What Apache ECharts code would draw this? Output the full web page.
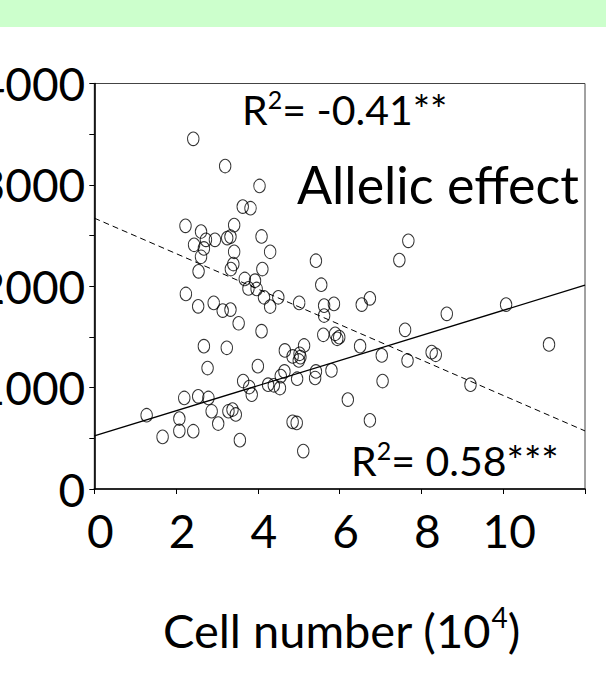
<!DOCTYPE html>
<html><head><meta charset="utf-8">
<script src="https://cdn.jsdelivr.net/npm/echarts@6/dist/echarts.min.js"></script>
<style>
html,body{margin:0;padding:0;background:#fff;overflow:hidden;}
#chart{width:606px;height:678px;}
</style></head><body>
<div id="chart"></div>
<script>
const cellNumber = [2.42,3.20,4.04,3.63,3.82,2.23,3.42,2.61,2.73,2.95,3.25,3.33,2.44,2.68,4.09,3.42,4.30,2.61,5.42,3.40,3.34,4.11,2.55,5.55,3.68,3.93,
2.24,2.54,2.92,3.14,3.33,3.53,3.77,3.97,4.15,4.30,4.50,5.01,5.62,5.62,4.09,5.60,2.68,3.24,4.66,5.13,5.02,5.04,5.00,4.85,2.77,4.00,4.65,4.56,5.42,5.80,5.40,4.96,3.64,3.79,3.85,4.25,4.39,4.54,2.20,2.54,2.79,2.87,3.28,3.38,3.46,1.28,2.08,3.03,4.85,4.95,2.08,2.42,1.67,3.56,5.11,
5.86,6.54,6.74,8.62,10.07,7.60,5.89,5.99,5.94,6.50,7.03,7.66,8.25,8.35,11.12,7.05,9.20,6.20,6.74,7.68,7.46];
const allelicEffect = [3454,3186,2989,2786,2770,2596,2603,2540,2458,2458,2475,2490,2409,2373,2491,2340,2340,2291,2252,2219,2170,2170,2147,2015,2072,2055,
1924,1802,1836,1760,1770,1635,1979,1973,1891,1800,1891,1836,1809,1711,1557,1521,1409,1393,1367,1416,1334,1301,1268,1308,1193,1212,1160,1114,1160,1170,1095,1088,1065,1006,931,1029,1023,996,898,914,898,767,767,784,735,728,695,646,662,652,573,570,514,482,374,
1826,1819,1881,1728,1819,1570,1531,1498,1482,1409,1318,1268,1350,1324,1426,1065,1029,882,678,2448,2258];
const fitPositiveX = [0, 12];
const fitPositiveY = [524, 2010];
const fitNegativeX = [0, 12];
const fitNegativeY = [2672, 573];
const xTickLabels = ['0','2','4','6','8','10'];
const yTickLabels = ['0','1000','2000','3000','4000'];
const annotationTop = ['R', '2', '= -0.41**'];
const annotationLabel = 'Allelic effect';
const annotationBottom = ['R', '2', '= 0.58***'];
const xTitle = ['Cell number (10', '4', ')'];

const FONT = 'Lato';
const richR2 = (size) => ({
  a: {fontSize: size, fontFamily: FONT, color: '#000', lineHeight: size * 1.2, verticalAlign: 'middle'},
  s: {fontSize: Math.round(size * 0.6), fontFamily: FONT, color: '#000', lineHeight: size * 1.2, verticalAlign: 'top', padding: [2, 0, 0, 0]}
});
const chart = echarts.init(document.getElementById('chart'), null, {renderer: 'svg'});
chart.setOption({
  animation: false,
  backgroundColor: '#fff',
  grid: {left: 94.3, right: 21, top: 83.5, bottom: 189, show: true, borderColor: '#444', borderWidth: 1,
    backgroundColor: 'transparent', containLabel: false, outerBoundsMode: 'none'},
  xAxis: {
    type: 'value', min: 0, max: 12, interval: 2,
    axisLine: {show: true, onZero: false, lineStyle: {color: '#000', width: 1.6}},
    axisTick: {show: true, inside: false, length: 5, lineStyle: {color: '#000', width: 1}},
    splitLine: {show: false},
    axisLabel: {show: true, margin: 18, fontSize: 46, fontFamily: FONT, color: '#000', padding: [0,0,0,12],
      formatter: v => xTickLabels.includes(String(v)) ? String(v) : ''}
  },
  yAxis: {
    type: 'value', min: 0, max: 4000, interval: 500,
    axisLine: {show: true, onZero: false, lineStyle: {color: '#000', width: 1.6}},
    axisTick: {show: true, inside: false, length: 5, lineStyle: {color: '#000', width: 1}},
    splitLine: {show: false},
    axisLabel: {show: true, margin: 9, fontSize: 46, fontFamily: FONT, color: '#000',
      formatter: v => yTickLabels.includes(String(v)) ? String(v) : ''}
  },
  graphic: [
    {type: 'rect', shape: {x: 0, y: 0, width: 606, height: 27}, style: {fill: '#ccffcc'}, z: -1},
    {type: 'text', x: 242, y: 109, style: {
      text: '{a|' + annotationTop[0] + '}{s|' + annotationTop[1] + '}{a|' + annotationTop[2] + '}',
      rich: richR2(41), align: 'left', verticalAlign: 'middle'}},
    {type: 'text', x: 297, y: 184, style: {text: annotationLabel, fontSize: 52, fontFamily: FONT, fill: '#000', align: 'left', verticalAlign: 'middle'}},
    {type: 'text', x: 351, y: 460, style: {
      text: '{a|' + annotationBottom[0] + '}{s|' + annotationBottom[1] + '}{a|' + annotationBottom[2] + '}',
      rich: richR2(41), align: 'left', verticalAlign: 'middle'}},
    {type: 'text', x: 163, y: 630, style: {
      text: '{a|' + xTitle[0] + '}{s|' + xTitle[1] + '}{a|' + xTitle[2] + '}',
      rich: {
        a: {fontSize: 47, fontFamily: FONT, color: '#000', lineHeight: 56, verticalAlign: 'middle'},
        s: {fontSize: 28, fontFamily: FONT, color: '#000', lineHeight: 56, verticalAlign: 'top', padding: [1, 0, 0, 0]}
      },
      align: 'left', verticalAlign: 'middle'}}
  ],
  series: [
    {type: 'scatter', symbol: 'circle', symbolSize: [11.5, 13.5],
      itemStyle: {color: 'rgba(0,0,0,0)', borderColor: '#000', borderWidth: 1},
      emphasis: {disabled: true}, silent: true, z: 3,
      data: cellNumber.map((x, i) => [x, allelicEffect[i]])},
    {type: 'line', symbol: 'none', silent: true, z: 2,
      lineStyle: {color: '#000', width: 1.3, type: 'solid'},
      data: fitPositiveX.map((x, i) => [x, fitPositiveY[i]])},
    {type: 'line', symbol: 'none', silent: true, z: 2,
      lineStyle: {color: '#000', width: 1, type: [6, 4]},
      data: fitNegativeX.map((x, i) => [x, fitNegativeY[i]])}
  ]
});
</script>
</body></html>
